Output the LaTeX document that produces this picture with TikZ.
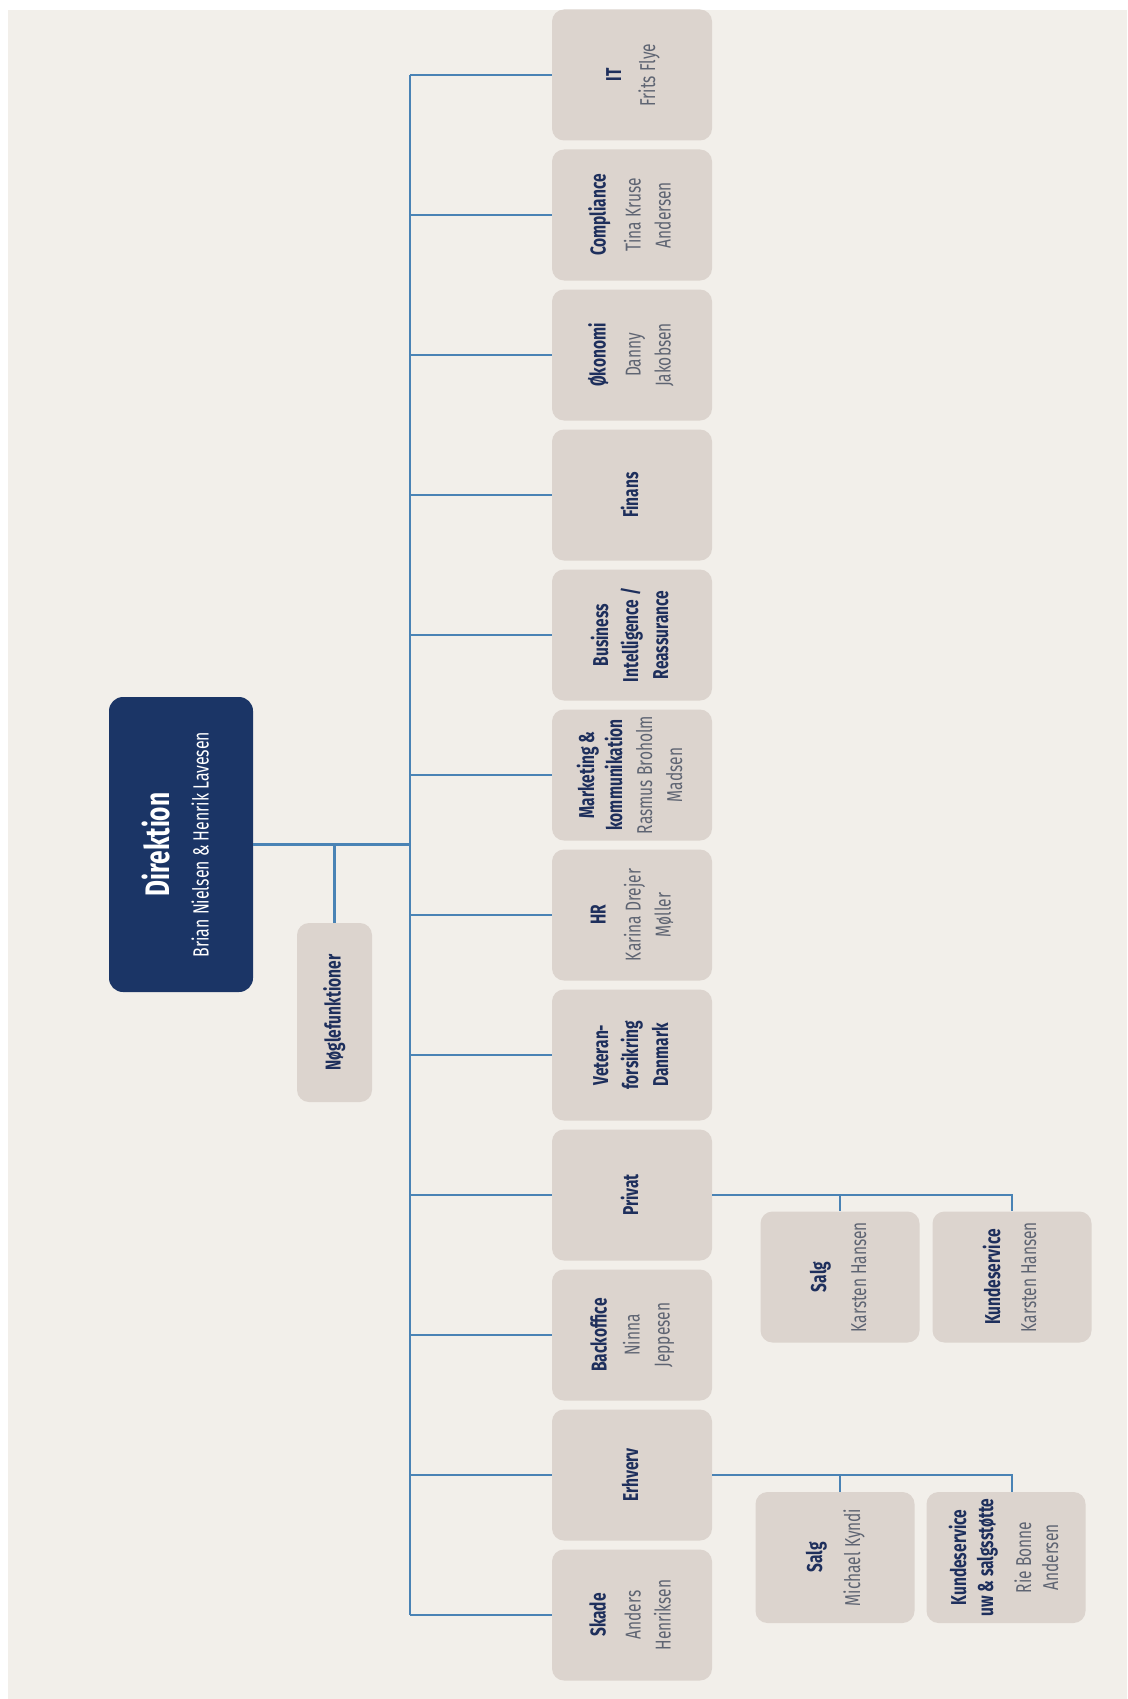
\documentclass[tikz,border=0pt]{standalone}
\usepackage{fontspec}
\setmainfont{Fira Sans}[FakeStretch=0.72]
\usepackage{graphicx}
\definecolor{panel}{HTML}{F2EFEA}
\definecolor{boxc}{HTML}{DCD4CE}
\definecolor{navy}{HTML}{1B3566}
\definecolor{headc}{HTML}{1E2F5C}
\definecolor{namec}{HTML}{5E6472}
\definecolor{linec}{HTML}{4A83B5}
\newcommand\rt[1]{\rotatebox{90}{\begin{tabular}{@{}c@{}}#1\end{tabular}}}
\newcommand\hb[1]{\textbf{\color{headc}#1}}
\newcommand\nm[1]{{\color{namec}#1}}
\tikzset{
  unitbox/.style={fill=boxc, rounded corners=12pt, minimum width=160pt, minimum height=131pt,
    inner sep=0pt, font=\fontsize{21.5}{30}\selectfont},
  subbox/.style={unitbox, minimum width=159pt},
  dirbox/.style={fill=navy, rounded corners=14pt, minimum width=144pt, minimum height=295pt,
    inner sep=0pt, text=white, font=\fontsize{34}{40}\selectfont},
  keybox/.style={fill=boxc, rounded corners=12pt, minimum width=75pt, minimum height=179pt,
    inner sep=0pt, font=\fontsize{21.5}{30}\selectfont},
  conn/.style={draw=linec, line width=2.6pt},
}
\begin{document}
\begin{tikzpicture}[x=1pt,y=-1pt]
\useasboundingbox (0,0) rectangle (1127,1699);
\fill[white] (0,0) rectangle (1127,1699);
\fill[panel] (8,10) rectangle (1127,1699);

\coordinate (bus) at (410,0);

\node[dirbox] (dir) at (181,844.5) {\rt{\textbf{Direktion}\\[-1pt] {\fontsize{22}{26}\selectfont Brian Nielsen \& Henrik Lavesen}}};
\node[keybox] (noegle) at (334.5,1012.5) {\rt{\hb{Nøglefunktioner}}};

\node[unitbox] (it) at (632,75) {\rt{\hb{IT}\\[4pt] \nm{Frits Flye}}};
\node[unitbox] (comp) at (632,215) {\rt{\hb{Compliance}\\[5pt] \nm{Tina Kruse}\\ \nm{Andersen}}};
\node[unitbox] (oek) at (632,355) {\rt{\hb{Økonomi}\\[5pt] \nm{Danny}\\ \nm{Jakobsen}}};
\node[unitbox] (fin) at (632,495) {\rt{\hb{Finans}}};
\node[unitbox] (bi) at (632,635) {\rt{\hb{Business}\\ \hb{Intelligence /}\\ \hb{Reassurance}}};
\node[unitbox] (mark) at (632,775) {\rt{\hb{Marketing \&}\\[-2pt] \hb{kommunikation}\\ \nm{Rasmus Broholm}\\ \nm{Madsen}}};
\node[unitbox] (hr) at (632,915) {\rt{\hb{HR}\\[5pt] \nm{Karina Drejer}\\ \nm{Møller}}};
\node[unitbox] (vet) at (632,1055) {\rt{\hb{Veteran-}\\ \hb{forsikring}\\ \hb{Danmark}}};
\node[unitbox] (priv) at (632,1195) {\rt{\hb{Privat}}};
\node[unitbox] (back) at (632,1335) {\rt{\hb{Backoffice}\\[3pt] \nm{Ninna}\\ \nm{Jeppesen}}};
\node[unitbox] (erh) at (632,1475) {\rt{\hb{Erhverv}}};
\node[unitbox] (skade) at (632,1615) {\rt{\hb{Skade}\\[5pt] \nm{Anders}\\ \nm{Henriksen}}};

\node[subbox] (psalg) at (840,1277) {\rt{\hb{Salg}\\[10pt] \nm{Karsten Hansen}}};
\node[subbox] (pkunde) at (1012,1277) {\rt{\hb{Kundeservice}\\[6pt] \nm{Karsten Hansen}}};
\node[subbox] (esalg) at (835,1557.5) {\rt{\hb{Salg}\\[8pt] \nm{Michael Kyndi}}};
\node[subbox] (ekunde) at (1006,1557.5) {\rt{\hb{Kundeservice}\\[-3pt] \hb{uw \& salgsstøtte}\\[8pt] \nm{Rie Bonne}\\[-3pt] \nm{Andersen}}};

% connectors
\draw[conn] (dir.east) -- (dir.east -| bus);
\draw[conn] (noegle.north) -- (noegle.north |- dir.east);
\draw[conn] (bus |- it.west) -- (bus |- skade.west);
\foreach \b in {it,comp,oek,fin,bi,mark,hr,vet,priv,back,erh,skade}
  \draw[conn] (bus |- \b.west) -- (\b.west);
\draw[conn] (priv.east) -| (psalg.north);
\draw[conn] (priv.east) -| (pkunde.north);
\draw[conn] (erh.east) -| (psalg.north |- esalg.north);
\draw[conn] (erh.east) -| (pkunde.north |- ekunde.north);
\end{tikzpicture}
\end{document}
